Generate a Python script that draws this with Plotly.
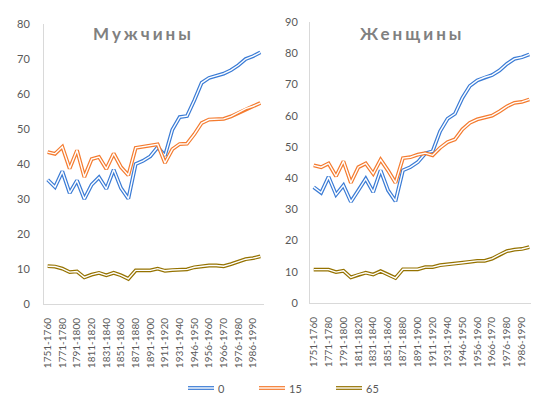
import plotly.graph_objects as go

W, H = 539, 396

categories = [
    "1751-1760", "1761-1770", "1771-1780", "1781-1790", "1791-1800",
    "1801-1810", "1811-1820", "1821-1830", "1831-1840", "1841-1850",
    "1851-1860", "1861-1870", "1871-1880", "1881-1890", "1891-1900",
    "1901-1910", "1911-1920", "1921-1930", "1931-1940", "1941-1945",
    "1946-1950", "1951-1955", "1956-1960", "1961-1965", "1966-1970",
    "1971-1975", "1976-1980", "1981-1985", "1986-1990", "1991-1995",
]
tick_labels = categories[::2]

series_names = ["0", "15", "65"]
series_colors = ["#3a7bd5", "#f47b2f", "#957200"]

men_0 = [35.5, 33.4, 37.9, 31.7, 35.3, 30.0, 34.1, 36.2, 32.9, 38.4,
         33.1, 30.1, 40.0, 40.9, 42.2, 44.8, 42.4, 49.8, 53.4, 53.7,
         58.2, 63.2, 64.6, 65.2, 65.8, 66.8, 68.2, 70.0, 70.8, 71.9]
men_15 = [43.4, 42.9, 44.9, 38.7, 43.9, 36.3, 41.4, 42.0, 38.6, 43.0,
          39.1, 36.8, 44.6, 45.0, 45.4, 45.6, 40.3, 44.2, 45.7, 45.8,
          48.5, 51.7, 52.7, 52.7, 52.9, 53.6, 54.6, 55.8, 56.5, 57.4]
men_65 = [10.8, 10.7, 10.1, 9.1, 9.3, 7.6, 8.4, 8.9, 8.2, 8.9,
          8.2, 7.2, 9.6, 9.6, 9.6, 10.1, 9.5, 9.7, 9.9, 9.9,
          10.5, 10.8, 11.0, 11.0, 10.8, 11.4, 12.0, 12.8, 13.1, 13.6]

women_0 = [37.1, 35.3, 40.4, 34.7, 37.7, 32.4, 36.1, 39.8, 35.5, 42.5,
           36.1, 32.6, 42.5, 43.5, 45.1, 47.9, 48.6, 55.0, 59.0, 60.6,
           65.7, 69.5, 71.3, 72.3, 73.0, 74.5, 76.6, 78.2, 78.7, 79.6]
women_15 = [44.1, 43.5, 44.7, 40.6, 45.4, 38.5, 43.5, 44.7, 41.4, 45.9,
            42.4, 38.5, 46.4, 46.7, 47.5, 48.0, 47.3, 49.7, 51.5, 52.4,
            55.6, 57.7, 58.8, 59.3, 60.0, 61.4, 63.0, 64.1, 64.4, 65.2]
women_65 = [10.7, 10.7, 10.7, 9.9, 10.3, 8.2, 9.1, 9.7, 9.1, 10.2,
            9.1, 8.0, 10.8, 10.8, 10.8, 11.5, 11.5, 12.1, 12.3, 12.6,
            12.9, 13.2, 13.5, 13.5, 14.2, 15.5, 16.6, 17.1, 17.3, 17.9]

titles = ["Мужчины", "Женщины"]

FONT = "Lato, 'Open Sans', sans-serif"
TXT = "#595959"
OUTER_W = 3.8
INNER_W = 1.4

fig = go.Figure()

panels = [
    ("x", "y", [men_0, men_15, men_65]),
    ("x2", "y2", [women_0, women_15, women_65]),
]
for xa, ya, data in panels:
    for name, color, vals in zip(series_names, series_colors, data):
        fig.add_trace(go.Scatter(x=categories, y=vals, mode="lines", name=name,
                                 line=dict(color=color, width=OUTER_W),
                                 xaxis=xa, yaxis=ya, showlegend=False,
                                 hoverinfo="skip"))
        fig.add_trace(go.Scatter(x=categories, y=vals, mode="lines",
                                 line=dict(color="white", width=INNER_W),
                                 xaxis=xa, yaxis=ya, showlegend=False,
                                 hoverinfo="skip"))

def px_x(p):
    return p / W

def px_y(p):
    return 1 - p / H

xcommon = dict(type="category", categoryorder="array", categoryarray=categories,
               range=[-0.5, len(categories) - 0.5], showline=True,
               linecolor="#d9d9d9", linewidth=1, showgrid=False, zeroline=False,
               tickmode="array", tickvals=tick_labels, ticktext=tick_labels,
               tickangle=-90, ticks="", tickfont=dict(family=FONT, size=10, color=TXT),
               automargin=False, ticklabelstandoff=9)
ycommon = dict(showline=True, linecolor="#d9d9d9", linewidth=1, showgrid=False,
               zeroline=False, dtick=10, ticks="",
               tickfont=dict(family=FONT, size=11, color=TXT), automargin=False)

fig.update_layout(
    width=W, height=H,
    margin=dict(l=0, r=0, t=0, b=0),
    paper_bgcolor="white", plot_bgcolor="white",
    showlegend=False,
    xaxis=dict(domain=[px_x(36), px_x(256)], anchor="y", **xcommon),
    yaxis=dict(domain=[px_y(296), px_y(16)], range=[0, 80], anchor="x",
               ticklabelstandoff=11, **ycommon),
    xaxis2=dict(domain=[px_x(302), px_x(525)], anchor="y2", **xcommon),
    yaxis2=dict(domain=[px_y(295), px_y(14)], range=[0, 90], anchor="x2",
                ticklabelstandoff=9, **ycommon),
)

annotations = []
for t, cx in zip(titles, [135, 404]):
    annotations.append(dict(
        text=f'<b><span style="letter-spacing:3px">{t}</span></b>',
        xref="paper", yref="paper", x=px_x(cx), y=px_y(25),
        xanchor="center", yanchor="middle", showarrow=False,
        font=dict(family=FONT, size=17, color="#808080")))

shapes = []
legend_x = [180, 251, 328]
ly = px_y(380)
for name, color, lx in zip(series_names, series_colors, legend_x):
    shapes.append(dict(type="line", xref="paper", yref="paper",
                       x0=px_x(lx), x1=px_x(lx + 26), y0=ly, y1=ly,
                       line=dict(color=color, width=OUTER_W)))
    shapes.append(dict(type="line", xref="paper", yref="paper",
                       x0=px_x(lx), x1=px_x(lx + 26), y0=ly, y1=ly,
                       line=dict(color="white", width=INNER_W)))
    annotations.append(dict(text=name, xref="paper", yref="paper",
                            x=px_x(lx + 28), y=ly, xanchor="left", yanchor="middle",
                            showarrow=False,
                            font=dict(family=FONT, size=11, color=TXT)))

fig.update_layout(annotations=annotations, shapes=shapes)

fig.write_html("out.html")
